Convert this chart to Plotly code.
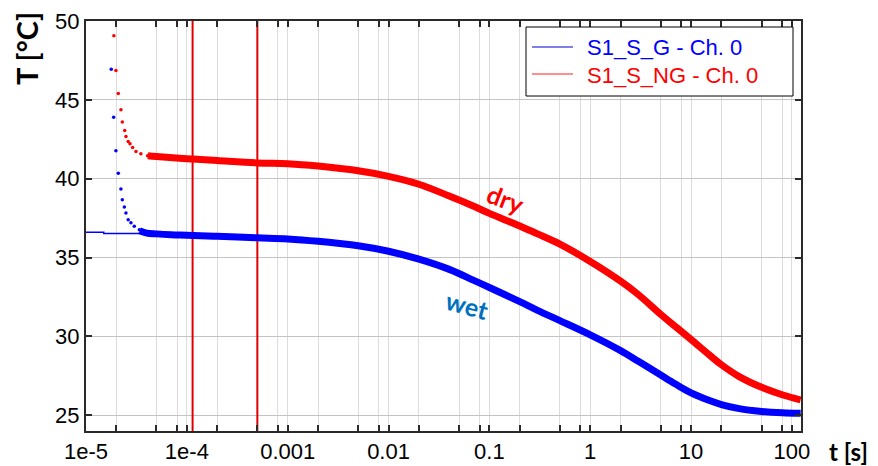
import math
import plotly.graph_objects as go

# ---------------- data ----------------
# wet (S1_S_G) - early scattered samples
wet_early_t = [1.78e-5, 1.88e-5, 1.98e-5, 2.09e-5, 2.22e-5, 2.29e-5, 2.40e-5, 2.49e-5,
               2.62e-5, 2.79e-5, 3.01e-5, 3.38e-5]
wet_early_T = [46.94, 43.9, 41.77, 40.34, 39.35, 38.67, 38.2, 37.83, 37.4, 37.2, 36.98, 36.77]
# wet - initial baseline (thin line)
wet_base_t = [1e-5, 1.5e-5, 1.5e-5, 4.5e-5]
wet_base_T = [36.6, 36.6, 36.53, 36.53]
# wet - main curve
wet_t = [3.4e-5, 4e-5, 5e-5, 7e-5, 1e-4, 2e-4, 5e-4, 1e-3, 2e-3, 5e-3, 0.01, 0.02, 0.04,
         0.07, 0.1, 0.2, 0.3, 0.5, 1, 2, 3, 5, 7, 10, 15, 20, 30, 50, 80, 122]
wet_T = [36.7, 36.55, 36.5, 36.45, 36.42, 36.35, 36.25, 36.18, 36.03, 35.75, 35.4, 34.9, 34.25,
         33.55, 33.1, 32.2, 31.65, 31.0, 30.1, 29.1, 28.42, 27.55, 26.98, 26.42, 25.95, 25.68,
         25.42, 25.24, 25.15, 25.12]

# dry (S1_S_NG) - early scattered samples
dry_early_t = [1.89e-5, 1.98e-5, 2.09e-5, 2.22e-5, 2.29e-5, 2.42e-5, 2.49e-5, 2.62e-5,
               2.73e-5, 2.9e-5, 3.13e-5, 3.5e-5, 4.08e-5]
dry_early_T = [49.07, 46.86, 45.4, 44.37, 43.59, 43.06, 42.68, 42.36, 42.22, 41.98, 41.73,
               41.58, 41.46]
# dry - main curve
dry_t = [4.1e-5, 5e-5, 1e-4, 2e-4, 5e-4, 1e-3, 2e-3, 5e-3, 0.01, 0.02, 0.04, 0.07, 0.1, 0.2,
         0.3, 0.5, 1, 2, 3, 5, 7, 10, 15, 20, 30, 50, 80, 122]
dry_T = [41.46, 41.41, 41.27, 41.15, 41.0, 40.95, 40.8, 40.5, 40.15, 39.65, 38.9, 38.25, 37.8,
         37.0, 36.5, 35.85, 34.75, 33.5, 32.65, 31.4, 30.62, 29.8, 28.85, 28.2, 27.45, 26.77,
         26.3, 25.97]

# vertical markers
vlines_t = [1.14e-4, 5.0e-4]

# axis ticks
decades = [-5, -4, -3, -2, -1, 0, 1, 2]
decade_labels = ["1e-5", "1e-4", "0.001", "0.01", "0.1", "1", "10", "100"]
minor_mult = [2, 5, 8]
y_ticks = [25, 30, 35, 40, 45, 50]

legend_names = ["S1_S_G - Ch. 0", "S1_S_NG - Ch. 0"]
legend_text_colors = ["#0000ff", "#ff0000"]
legend_line_colors = ["#0000cc", "#ff2020"]

# curve labels
label_text = ["dry", "wet"]
label_t = [0.147, 0.0605]
label_T = [38.7, 32.0]
label_color = ["#ff0000", "#0070c0"]
label_angle = [21, 15]

BLUE = "#0000ff"
RED = "#ff0000"

# ---------------- layout geometry (pixels) ----------------
W, H = 878, 466
ML, MR, MT, MB = 86, 77, 21, 35
PW, PH = W - ML - MR, H - MT - MB


def px(x):
    return (x - ML) / PW


def py(y):
    return (H - MB - y) / PH


# ---------------- build ticks ----------------
tickvals, ticktext = [], []
for d, lab in zip(decades, decade_labels):
    tickvals.append(10 ** d)
    ticktext.append(lab)
    for m in minor_mult:
        v = m * 10 ** d
        if v <= 123:
            tickvals.append(v)
            ticktext.append("")

fig = go.Figure()

# vertical red lines
for v in vlines_t:
    fig.add_trace(go.Scatter(x=[v, v], y=[24, 50], mode="lines",
                             line=dict(color="#e00000", width=2),
                             showlegend=False, hoverinfo="skip"))

# wet
fig.add_trace(go.Scatter(x=wet_base_t, y=wet_base_T, mode="lines",
                         line=dict(color=BLUE, width=1.5), showlegend=False))
fig.add_trace(go.Scatter(x=wet_early_t, y=wet_early_T, mode="markers",
                         marker=dict(color=BLUE, size=3.5), showlegend=False))
fig.add_trace(go.Scatter(x=wet_t, y=wet_T, mode="lines",
                         line=dict(color=BLUE, width=7, shape="spline", smoothing=1.0),
                         showlegend=False))
# dry
fig.add_trace(go.Scatter(x=dry_early_t, y=dry_early_T, mode="markers",
                         marker=dict(color=RED, size=3.5), showlegend=False))
fig.add_trace(go.Scatter(x=dry_t, y=dry_T, mode="lines",
                         line=dict(color=RED, width=7, shape="spline", smoothing=1.0),
                         showlegend=False))

annotations = []
for txt, t, T, c, a in zip(label_text, label_t, label_T, label_color, label_angle):
    annotations.append(dict(x=math.log10(t), y=T, xref="x", yref="y", text=f"<b>{txt}</b>",
                            showarrow=False, textangle=a, xanchor="center", yanchor="middle",
                            font=dict(family="Lato", size=25, color=c)))
annotations.append(dict(x=px(848), y=py(451), xref="paper", yref="paper", text="<b>t [s]</b>",
                        showarrow=False, xanchor="center", yanchor="middle",
                        font=dict(family="Lato", size=24, color="black")))
annotations.append(dict(x=px(27), y=py(49), xref="paper", yref="paper", text="<b>T [°C]</b>",
                        showarrow=False, textangle=-90, xanchor="center", yanchor="middle",
                        font=dict(family="Lato", size=29, color="black")))

# hand-drawn legend box
shapes = [dict(type="rect", xref="paper", yref="paper", x0=px(526), x1=px(793),
               y0=py(96), y1=py(27), line=dict(color="black", width=1),
               fillcolor="white", layer="above")]
legend_rows_y = [47, 74]
for name, tc, lc, ry in zip(legend_names, legend_text_colors, legend_line_colors,
                            legend_rows_y):
    shapes.append(dict(type="line", xref="paper", yref="paper", x0=px(532), x1=px(573),
                       y0=py(ry), y1=py(ry), line=dict(color=lc, width=1.2), layer="above"))
    annotations.append(dict(x=px(585), y=py(ry + 1), xref="paper", yref="paper", text=name,
                            showarrow=False, xanchor="left", yanchor="middle",
                            font=dict(family="Liberation Sans", size=22, color=tc)))

axis_common = dict(showline=True, linecolor="#2a2a2a", linewidth=2, mirror="ticks",
                   ticks="inside", ticklen=6, tickcolor="#2a2a2a", tickwidth=1.5,
                   zeroline=False, automargin=False,
                   tickfont=dict(family="Liberation Sans", size=22, color="black"))

fig.update_layout(
    width=W, height=H,
    margin=dict(l=ML, r=MR, t=MT, b=MB),
    plot_bgcolor="white", paper_bgcolor="white",
    xaxis=dict(type="log", range=[-5, math.log10(123)], tickmode="array",
               tickvals=tickvals, ticktext=ticktext,
               showgrid=True, gridcolor="#dcdcdc", gridwidth=1, **axis_common),
    yaxis=dict(range=[24, 50], tickmode="array", tickvals=y_ticks,
               showgrid=True, gridcolor="#c4c4c4", gridwidth=1, **axis_common),
    annotations=annotations,
    shapes=shapes,
    showlegend=False,
)

fig.write_html("out.html")
